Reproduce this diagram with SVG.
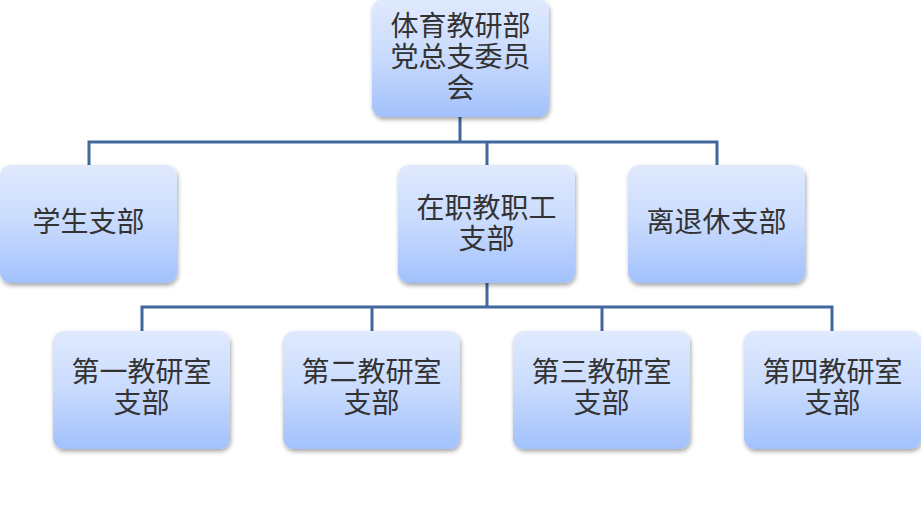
<svg xmlns="http://www.w3.org/2000/svg" width="921" height="508" viewBox="0 0 921 508">
  <style>
    .box { fill: url(#g); filter: url(#sh); }
    .t { font-family: "Noto Sans CJK SC", "Noto Sans", sans-serif; font-size: 28px; fill: #333333; text-anchor: middle; dominant-baseline: central; }
    .c { fill: none; stroke: #41689e; stroke-width: 3; }
  </style>
  <defs>
    <linearGradient id="g" x1="0" y1="0" x2="0" y2="1">
      <stop offset="0" stop-color="#e0eafe"/>
      <stop offset="0.5" stop-color="#c8dafd"/>
      <stop offset="1" stop-color="#a2c1fc"/>
    </linearGradient>
    <filter id="sh" x="-10%" y="-10%" width="125%" height="130%">
      <feDropShadow dx="1" dy="2.5" stdDeviation="2" flood-color="#000" flood-opacity="0.35"/>
    </filter>
  </defs>
  <rect width="921" height="508" fill="#ffffff"/>
  <g id="connectors">
    <path class="c" d="M460,117 V142 M89,165 V142 H717 V165 M487,142 V165"/>
    <path class="c" d="M487,283 V307 M142,331 V307 H832 V331 M372,307 V331 M602,307 V331"/>
  </g>
  <g id="n0">
    <rect class="box" x="372" y="-1" width="177" height="118" rx="11"/>
    <text class="t" x="460.5" y="24">体育教研部</text>
    <text class="t" x="460.5" y="55">党总支委员</text>
    <text class="t" x="460.5" y="86">会</text>
  </g>
  <g id="n1">
    <rect class="box" x="0" y="165" width="177" height="118" rx="11"/>
    <text class="t" x="88.5" y="220">学生支部</text>
  </g>
  <g id="n2">
    <rect class="box" x="398" y="165" width="177" height="118" rx="11"/>
    <text class="t" x="486.5" y="206">在职教职工</text>
    <text class="t" x="486.5" y="237">支部</text>
  </g>
  <g id="n3">
    <rect class="box" x="628" y="165" width="177" height="118" rx="11"/>
    <text class="t" x="716.5" y="220">离退休支部</text>
  </g>
  <g id="n4">
    <rect class="box" x="53" y="331" width="177" height="118" rx="11"/>
    <text class="t" x="141.5" y="370">第一教研室</text>
    <text class="t" x="141.5" y="401">支部</text>
  </g>
  <g id="n5">
    <rect class="box" x="283" y="331" width="177" height="118" rx="11"/>
    <text class="t" x="371.5" y="370">第二教研室</text>
    <text class="t" x="371.5" y="401">支部</text>
  </g>
  <g id="n6">
    <rect class="box" x="513" y="331" width="177" height="118" rx="11"/>
    <text class="t" x="601.5" y="370">第三教研室</text>
    <text class="t" x="601.5" y="401">支部</text>
  </g>
  <g id="n7">
    <rect class="box" x="744" y="331" width="177" height="118" rx="11"/>
    <text class="t" x="832.5" y="370">第四教研室</text>
    <text class="t" x="832.5" y="401">支部</text>
  </g>
</svg>
